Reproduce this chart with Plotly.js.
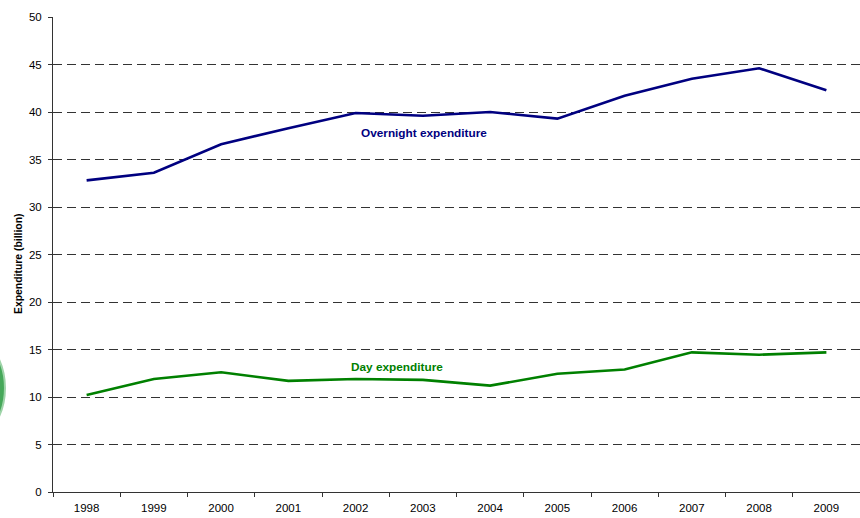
<!DOCTYPE html>
<html>
<head>
<meta charset="utf-8">
<script src="https://cdn.plot.ly/plotly-3.0.1.min.js"></script>
<style>html,body{margin:0;padding:0;background:#fff;}#chart{width:860px;height:518px;}</style>
</head>
<body>
<div id="chart"></div>
<script>
const years = ['1998','1999','2000','2001','2002','2003','2004','2005','2006','2007','2008','2009'];
const overnightExpenditure = [32.8, 33.6, 36.6, 38.3, 39.9, 39.6, 40.0, 39.3, 41.7, 43.5, 44.6, 42.3];
const dayExpenditure = [10.2, 11.9, 12.6, 11.7, 11.9, 11.8, 11.2, 12.45, 12.9, 14.7, 14.45, 14.7];
const yTickVals = [0,5,10,15,20,25,30,35,40,45,50];

const traces = [
  {x: years, y: overnightExpenditure, type: 'scatter', mode: 'lines', name: 'Overnight expenditure',
   line: {color: '#000080', width: 2.6}, hoverinfo: 'x+y'},
  {x: years, y: dayExpenditure, type: 'scatter', mode: 'lines', name: 'Day expenditure',
   line: {color: '#008000', width: 2.6}, hoverinfo: 'x+y'}
];

const plotW = 860 - 53, plotH = 518 - 17 - 26;

const layout = {
  width: 860, height: 518,
  margin: {l: 53, r: 0, t: 17, b: 26, pad: 0},
  paper_bgcolor: '#ffffff', plot_bgcolor: '#ffffff',
  showlegend: false,
  font: {family: '"Liberation Sans", Arial, sans-serif', size: 11.5, color: '#000'},
  xaxis: {
    type: 'category', range: [-0.5, 11.5], tickson: 'boundaries',
    ticks: 'outside', ticklen: 4, tickcolor: '#333333', tickwidth: 1,
    showline: true, linecolor: '#333333', linewidth: 1,
    showgrid: false, zeroline: false, fixedrange: true,
    ticklabelstandoff: 5,
    tickfont: {size: 11.5, color: '#000'}
  },
  yaxis: {
    range: [0, 50], tickvals: yTickVals,
    ticks: 'outside', ticklen: 4, tickcolor: '#333333', tickwidth: 1,
    showline: true, linecolor: '#333333', linewidth: 1,
    showgrid: true, gridcolor: '#333333', gridwidth: 1, griddash: '9px,5px',
    zeroline: false, fixedrange: true,
    ticklabelstandoff: 4,
    tickfont: {size: 11.5, color: '#000'}
  },
  shapes: [
    {type: 'circle', xref: 'paper', yref: 'paper', x0: -0.2305, x1: -0.0595, y0: 0.0737, y1: 0.3642,
     fillcolor: '#46a85a', line: {color: '#9fd4a9', width: 2}, layer: 'above'}
  ],
  annotations: [
    {x: 5.01, y: 37.8, xref: 'x', yref: 'y', text: '<b>Overnight expenditure</b>', showarrow: false,
     font: {size: 11.8, color: '#000080'}},
    {x: 4.62, y: 13.16, xref: 'x', yref: 'y', text: '<b>Day expenditure</b>', showarrow: false,
     font: {size: 11.8, color: '#008000'}},
    {x: (18 - 53) / plotW, y: (492 - 264) / plotH, xref: 'paper', yref: 'paper',
     xanchor: 'center', yanchor: 'middle',
     text: '<b>Expenditure (billion)</b>', showarrow: false,
     textangle: -90, font: {size: 10.4, color: '#000'}}
  ]
};

Plotly.newPlot('chart', traces, layout, {displayModeBar: false, staticPlot: true});
</script>
</body>
</html>
